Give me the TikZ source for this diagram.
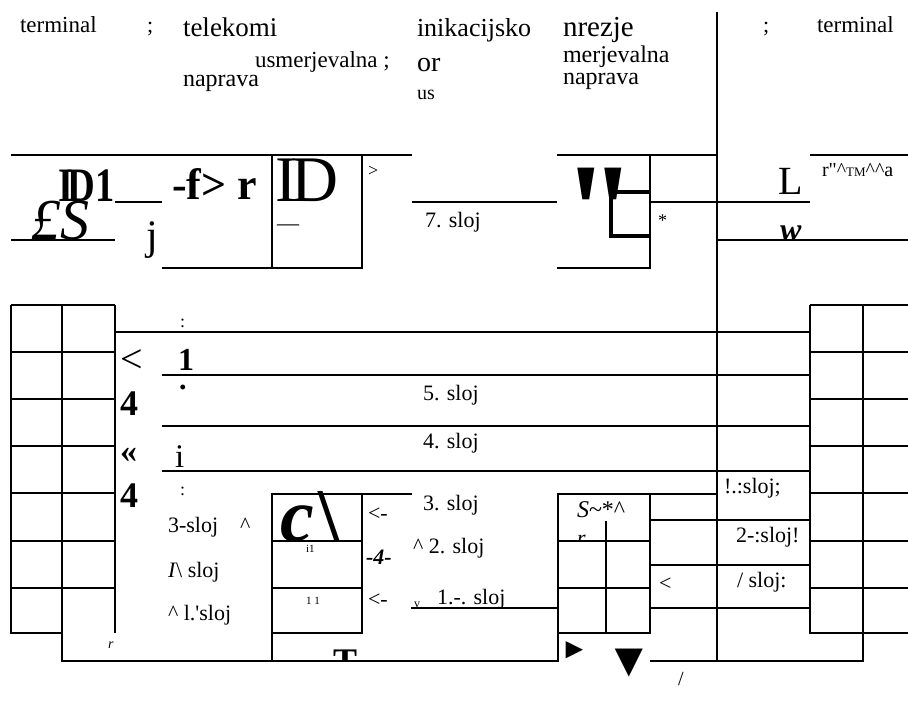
\documentclass[tikz,border=0pt]{standalone}
\usepackage{fontspec}
\setmainfont{Liberation Serif}
\newcommand{\fsz}[1]{\fontsize{#1}{#1}\selectfont}

\begin{document}
\begin{tikzpicture}[
    x=1pt, y=-1pt,
    rule/.style={line width=2.4pt},
    heavy/.style={line width=4pt},
    lbl/.style={anchor=base west, inner sep=0pt, outer sep=0pt},
    sloj/.style={lbl, font=\fsz{22}}
]
    \useasboundingbox (0,0) rectangle (908,714);

    % Header
    \node (termL) [lbl, font=\fsz{23}] at (20,33) {terminal};
    \node (semiL) [sloj] at (147,33) {;};
    \node (tele) [lbl, font=\fsz{27}] at (183,37) {telekomi};
    \node (usm) [lbl, font=\fsz{23}] at (255,68) {usmerjevalna ;};
    \node (napL) [lbl, font=\fsz{24}] at (183,87) {naprava};
    \node (inik) [lbl, font=\fsz{26}] at (417,37) {inikacijsko};
    \node (orr) [lbl, font=\fsz{28}] at (417,72) {or};
    \node (uss) [lbl, font=\fsz{20}] at (417,100) {us};
    \node (nrez) [lbl, font=\fsz{29}] at (563,37) {nrezje};
    \node (merj) [lbl, font=\fsz{24}] at (563,63) {merjevalna};
    \node (napR) [lbl, font=\fsz{24}] at (563,85) {naprava};
    \node (semiR) [sloj] at (763,33) {;};
    \node (termR) [lbl, font=\fsz{23}] at (817,33) {terminal};

    % Upper band
    \node (dee) [lbl, font=\fsz{48}\bfseries] at (58,202) {\scalebox{0.8}[1]{I\kern-0.14em D1}};
    \node (pound) [lbl, font=\fsz{58}\itshape] at (31,240) {£S};
    \node (jay) [lbl, font=\fsz{42}] at (146,250) {j};
    \node (fgt) [lbl, font=\fsz{44}\bfseries] at (172,200) {-f> r};
    \node (iid) [lbl, font=\fsz{65}] at (275,202) {I\kern-0.08em D};
    \node (dash) [lbl, font=\fsz{22}] at (277,231) {—};
    \node (gtr) [lbl, font=\fsz{18}] at (368,177) {>};
    \node (s7) [sloj] at (425,228) {7. sloj};
    \node (qa) [lbl, font=\fsz{135}\bfseries] at (567,257) {\textquotesingle};
    \node (qb) [lbl, font=\fsz{135}\bfseries] at (594,257) {\textquotesingle};
    \node (ast) [lbl, font=\fsz{18}] at (658,227) {*};
    \node (ell) [lbl, font=\fsz{40}] at (778,195) {L};
    \node (rtm) [lbl, font=\fsz{20}] at (822,177) {r\textquotedbl\textasciicircum{\fsz{13}TM}\textasciicircum\textasciicircum a};
    \node (dub) [lbl, font=\fsz{32}\bfseries\itshape] at (780,241) {w};

    % Left side marks
    \node (colA) [lbl, font=\fsz{18}] at (180,327) {:};
    \node (lss) [lbl, font=\fsz{40}] at (120,372) {<};
    \node (one) [lbl, font=\fsz{32}\bfseries] at (178,370) {1};
    \node (dot) [lbl, font=\fsz{30}\bfseries] at (179,389) {.};
    \node (fourA) [lbl, font=\fsz{36}\bfseries] at (120,415) {4};
    \node (guil) [lbl, font=\fsz{34}\bfseries] at (120,462) {«};
    \node (eye) [lbl, font=\fsz{33}] at (175,467) {i};
    \node (fourB) [lbl, font=\fsz{36}\bfseries] at (120,507) {4};
    \node (colB) [lbl, font=\fsz{18}] at (180,495) {:};
    \node (s5) [sloj] at (423,400) {5. sloj};
    \node (s4) [sloj] at (423,448) {4. sloj};

    % Lower layers, left
    \node (s3L) [sloj] at (168,532) {3-sloj};
    \node (hatA) [sloj] at (240,532) {\textasciicircum};
    \node (s2L) [sloj] at (168,577) {\textit{I}\textbackslash{} sloj};
    \node (s1L) [sloj] at (168,620) {\textasciicircum{} l.\textquotesingle sloj};
    \node (arr) [lbl, font=\fsz{14}\itshape] at (108,648) {r};
    \node (cee) [lbl, font=\fsz{76}\bfseries] at (280,541) {\textit{c}\kern0.06em\textbackslash};
    \node (tiA) [lbl, font=\fsz{11}] at (306,552) {i1};
    \node (tiB) [lbl, font=\fsz{11}] at (306,604) {1 1};
    \begin{scope}
        \clip (300,640) rectangle (380,661);
        \node (tee) [lbl, font=\fsz{36}\bfseries] at (333,673) {T};
    \end{scope}
    \node (arrA) [sloj] at (368,520) {<-};
    \node (fourC) [lbl, font=\fsz{22}\bfseries\itshape] at (366,564) {-4-};
    \node (arrB) [sloj] at (368,606) {<-};
    \node (s3) [sloj] at (423,510) {3. sloj};
    \node (s2) [sloj] at (413,553) {\textasciicircum{} 2. sloj};
    \node (vee) [lbl, font=\fsz{12}] at (414,607) {v};
    \node (s1) [sloj] at (437,604) {1.-. sloj};

    % Lower layers, right
    \node (ess) [lbl, font=\fsz{24}] at (577,517) {\textit{S}\textasciitilde*\textasciicircum};
    \begin{scope}
        \clip (570,525) rectangle (600,541);
        \node (arr2) [lbl, font=\fsz{22}\itshape] at (577,545) {r};
    \end{scope}
    \node (lsr) [sloj] at (659,590) {<};
    \node (s1R) [sloj] at (724,493) {!.:sloj;};
    \node (s2R) [sloj] at (736,542) {2-:sloj!};
    \node (s3R) [sloj] at (737,587) {/ sloj:};
    \node (tdot) [lbl, font=\fsz{10}] at (760,566) {.};
    \node (triR) [lbl, font=\fsz{29}] at (560,658) {►};
    \node (triD) [lbl, font=\fsz{48}] at (605,676) {▼};
    \node (slash) [lbl, font=\fsz{20}] at (678,685) {/};

    % Top rules
    \draw [rule] (11,155) -- (412,155);
    \draw [rule] (557,155) -- (717,155);
    \draw [rule] (810,155) -- (908,155);
    \draw [rule] (115,202) -- (162,202);
    \draw [rule] (412,202) -- (557,202);
    \draw [rule] (650,202) -- (810,202);
    \draw [rule] (11,240) -- (115,240);
    \draw [rule] (717,240) -- (908,240);
    \draw [rule] (272,155) -- (272,268);
    \draw [rule] (162,268) -- (362,268) -- (362,155);
    \draw [rule] (557,268) -- (650,268) -- (650,155);
    \draw [heavy] (650,192) -- (611,192) -- (611,236) -- (650,236);

    % Terminal stacks
    \foreach \y in {305,352,399,446,493,541,588} {
        \draw [rule] (11,\y) -- (115,\y);
        \draw [rule] (810,\y) -- (908,\y);
    }
    \draw [rule] (11,305) -- (11,633) -- (62,633);
    \draw [rule] (115,305) -- (115,633);
    \draw [rule] (62,305) -- (62,661) -- (558,661) -- (558,494) -- (717,494);
    \draw [rule] (810,305) -- (810,633) -- (908,633);
    \draw [rule] (863,305) -- (863,661) -- (650,661);
    \draw [rule] (717,12) -- (717,661);

    % Layer rules
    \draw [rule] (115,332) -- (810,332);
    \foreach \y in {375,426,471}
        \draw [rule] (162,\y) -- (810,\y);
    \foreach \y in {520,565,608}
        \draw [rule] (650,\y) -- (810,\y);
    \draw [rule] (411,608) -- (558,608);

    % Routers
    \draw [rule] (412,494) -- (272,494) -- (272,661);
    \draw [rule] (362,494) -- (362,633) -- (272,633);
    \draw [rule] (272,541) -- (362,541);
    \draw [rule] (272,588) -- (362,588);
    \draw [rule] (650,494) -- (650,633) -- (558,633);
    \draw [rule] (558,541) -- (650,541);
    \draw [rule] (558,588) -- (650,588);
    \draw [rule] (606,521) -- (606,633);
\end{tikzpicture}
\end{document}
